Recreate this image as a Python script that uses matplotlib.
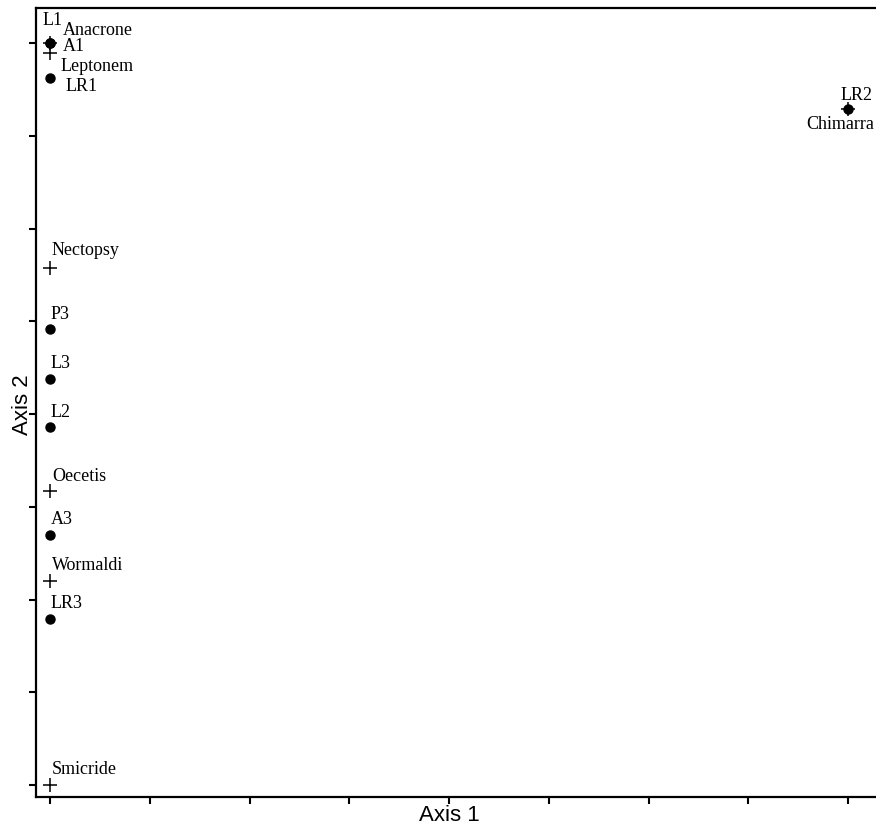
import numpy as np
import matplotlib
matplotlib.use('Agg')
import matplotlib.pyplot as plt

# ordination scores (axis units)
site_names = ['L1', 'A1', 'LR1', 'LR2', 'P3', 'L3', 'L2', 'A3', 'LR3']
site_x     = [0.0, 0.0, 0.0, 8.0, 0.0, 0.0, 0.0, 0.0, 0.0]
site_y     = [8.0, 8.0, 7.62, 7.29, 4.92, 4.38, 3.86, 2.70, 1.79]

spec_names = ['Anacrone', 'Leptonem', 'Chimarra', 'Nectopsy', 'Oecetis', 'Wormaldi', 'Smicride']
spec_x     = [0.0, 0.0, 8.0, 0.0, 0.0, 0.0, 0.0]
spec_y     = [8.0, 7.90, 7.29, 5.58, 3.17, 2.20, 0.0]

# label offsets in pixels (dx, dy), hand placed like the original
site_off = [(-7, 23), (13, -3), (16, -8), (-8, 14), (1, 14), (1, 15), (1, 15), (1, 15), (1, 15)]
spec_off = [(13, 13), (11, -14), (-42, -15), (2, 17), (2, 15), (2, 15), (2, 15)]

fig = plt.figure(figsize=(8.76, 8.30), dpi=100)
W, H = 876., 830.
ax = fig.add_axes([36/W, (H-797)/H, 862/W, 789/H])

ax.plot(spec_x, spec_y, '+', color='black', markersize=10, markeredgewidth=1.1, zorder=3)
ax.plot(site_x, site_y, 'o', color='black', markersize=6.5, zorder=4)

lbl_font = dict(family=['Liberation Serif', 'DejaVu Serif'], fontsize=13)
for n, x, y, o in zip(site_names, site_x, site_y, site_off):
    ax.annotate(n, (x, y), xytext=o, textcoords='offset pixels',
                ha='left', va='center', **lbl_font)
for n, x, y, o in zip(spec_names, spec_x, spec_y, spec_off):
    ax.annotate(n, (x, y), xytext=o, textcoords='offset pixels',
                ha='left', va='center', **lbl_font)

ax.set_xlim(-0.14, 8.5)
ax.set_ylim(-0.13, 8.38)
ax.set_xticks(np.arange(0, 9))
ax.set_yticks(np.arange(0, 9))
ax.set_xticklabels([])
ax.set_yticklabels([])
ax.tick_params(direction='out', length=5, width=1.5)

for s in ['left', 'bottom', 'top']:
    ax.spines[s].set_linewidth(1.6)
ax.spines['right'].set_visible(False)

ax.set_xlabel('Axis 1', fontsize=16, family=['Liberation Sans', 'DejaVu Sans'])
ax.set_ylabel('Axis 2', fontsize=16, family=['Liberation Sans', 'DejaVu Sans'])
ax.xaxis.set_label_coords(413/862, -0.01)
ax.yaxis.set_label_coords(-0.003, 0.497)

fig.savefig('out.png', dpi=100)
